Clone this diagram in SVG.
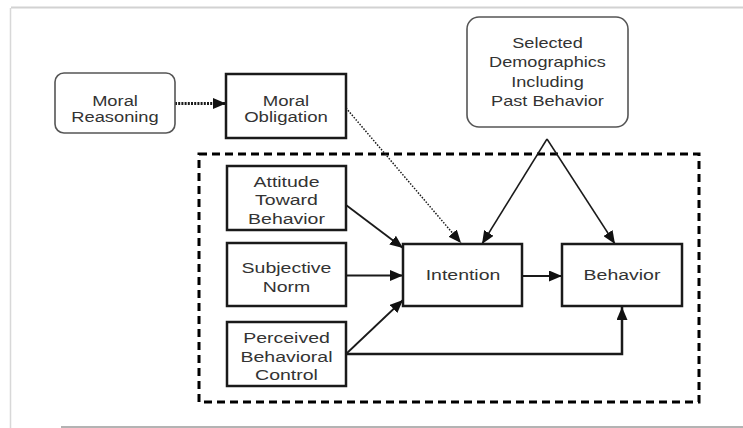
<svg xmlns="http://www.w3.org/2000/svg" width="743" height="428" viewBox="0 0 743 428">
<defs>
<style>
.t{font-family:"Liberation Sans",Arial,sans-serif;font-size:15px;fill:#333;text-anchor:middle}
.ts{font-family:"Liberation Sans",Arial,sans-serif;font-size:14.5px;fill:#333;text-anchor:middle}
.box{fill:#fff;stroke:#1a1a1a;stroke-width:2.5}
.rbox{fill:#fff;stroke:#555;stroke-width:1.6}
.c{fill:none;stroke:#1a1a1a}
</style>
<marker id="ah" markerUnits="userSpaceOnUse" markerWidth="13" markerHeight="11" refX="13" refY="5.5" orient="auto">
<path d="M0,0 L13,5.5 L0,11 z" fill="#111"/>
</marker>
</defs>
<rect width="743" height="428" fill="#fff"/>
<g id="frame">
<line x1="11" y1="7.5" x2="743" y2="7.5" stroke="#d2d2d2" stroke-width="2"/>
<line x1="10.5" y1="8" x2="10.5" y2="428" stroke="#d8d8d8" stroke-width="1.5"/>
<line x1="61" y1="427" x2="743" y2="427" stroke="#9a9a9a" stroke-width="1.5"/>
</g>
<g id="tpb-boundary">
<rect x="199" y="154" width="500" height="248" fill="none" stroke="#000" stroke-width="3" stroke-dasharray="8 5"/>
</g>
<g id="connectors">
<line class="c" x1="175" y1="103.5" x2="226" y2="103.5" stroke-width="3" stroke-dasharray="2 1.2" marker-end="url(#ah)"/>
<line class="c" x1="346" y1="108" x2="461" y2="243" stroke-width="1.5" stroke-dasharray="1.5 1.5" marker-end="url(#ah)"/>
<line class="c" x1="346" y1="205" x2="403" y2="248" stroke-width="1.8" marker-end="url(#ah)"/>
<line class="c" x1="346" y1="275.5" x2="403" y2="275.5" stroke-width="1.8" marker-end="url(#ah)"/>
<line class="c" x1="346" y1="354" x2="403" y2="300" stroke-width="1.8" marker-end="url(#ah)"/>
<polyline class="c" points="346,354 622,354 622,307" stroke-width="2.5" marker-end="url(#ah)"/>
<line class="c" x1="522" y1="276" x2="562" y2="276" stroke-width="1.8" marker-end="url(#ah)"/>
<line class="c" x1="547" y1="139" x2="482" y2="244" stroke-width="1.5" marker-end="url(#ah)"/>
<line class="c" x1="547" y1="139" x2="615" y2="244" stroke-width="1.5" marker-end="url(#ah)"/>
</g>
<g id="moral-reasoning">
<rect class="rbox" x="55" y="73" width="120" height="60" rx="9"/>
<text class="t" transform="translate(115 0) scale(1.22 1)"><tspan x="0" y="106">Moral</tspan><tspan x="0" y="122.5">Reasoning</tspan></text>
</g>
<g id="moral-obligation">
<rect class="box" x="226" y="74" width="120" height="64"/>
<text class="t" transform="translate(286 0) scale(1.24 1)"><tspan x="0" y="106">Moral</tspan><tspan x="0" y="122.5">Obligation</tspan></text>
</g>
<g id="demographics">
<rect class="rbox" x="467" y="17" width="161" height="110" rx="12"/>
<text class="ts" transform="translate(547.5 0) scale(1.25 1)"><tspan x="0" y="48">Selected</tspan><tspan x="0" y="67.3">Demographics</tspan><tspan x="0" y="86.6">Including</tspan><tspan x="0" y="106">Past Behavior</tspan></text>
</g>
<g id="attitude">
<rect class="box" x="227" y="166" width="119" height="64"/>
<text class="t" transform="translate(286.5 0) scale(1.3 1)"><tspan x="0" y="187">Attitude</tspan><tspan x="0" y="205.5">Toward</tspan><tspan x="0" y="224">Behavior</tspan></text>
</g>
<g id="subjective-norm">
<rect class="box" x="227" y="243" width="119" height="63"/>
<text class="t" transform="translate(286.5 0) scale(1.3 1)"><tspan x="0" y="273">Subjective</tspan><tspan x="0" y="292">Norm</tspan></text>
</g>
<g id="pbc">
<rect class="box" x="227" y="322" width="119" height="64"/>
<text class="t" transform="translate(286.5 0) scale(1.3 1)"><tspan x="0" y="343.5">Perceived</tspan><tspan x="0" y="362">Behavioral</tspan><tspan x="0" y="380">Control</tspan></text>
</g>
<g id="intention">
<rect class="box" x="403" y="244" width="119" height="62"/>
<text class="t" transform="translate(463 0) scale(1.3 1)" x="0" y="280.5">Intention</text>
</g>
<g id="behavior">
<rect class="box" x="562" y="244" width="120" height="62"/>
<text class="t" transform="translate(622 0) scale(1.3 1)" x="0" y="280.5">Behavior</text>
</g>
</svg>
